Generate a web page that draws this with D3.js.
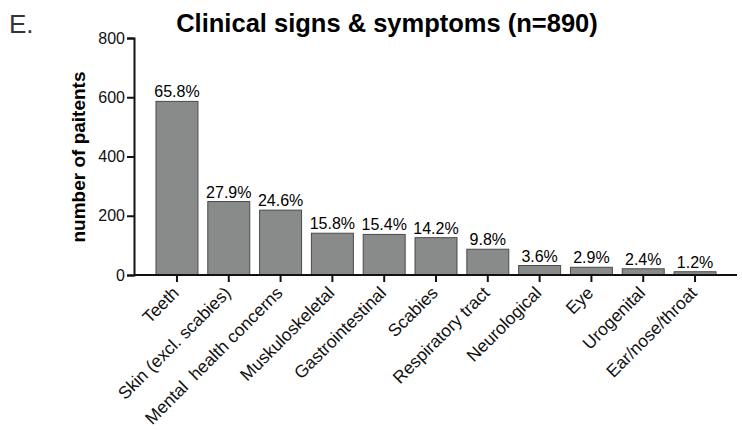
<!DOCTYPE html>
<html><head><meta charset="utf-8">
<script src="https://cdn.jsdelivr.net/npm/d3@7"></script>
<style>body{margin:0;background:#fff;} text{font-family:"Liberation Sans",Arial,sans-serif;}</style>
</head><body>
<svg id="c" width="742" height="430"></svg>
<script>
const categories = ["Teeth","Skin (excl. scabies)","Mental  health concerns","Muskuloskeletal","Gastrointestinal","Scabies","Respiratory tract","Neurological","Eye","Urogenital","Ear/nose/throat"];
const counts = [586, 248, 219, 141, 137, 126, 87, 32, 26, 21, 11];
const percentLabels = ["65.8%","27.9%","24.6%","15.8%","15.4%","14.2%","9.8%","3.6%","2.9%","2.4%","1.2%"];
const yTicks = [0,200,400,600,800];

const svg = d3.select("#c");
const x = d3.scaleBand().domain(categories).range([135, 737]).paddingInner(0.19).paddingOuter(0.405);
const y = d3.scaleLinear().domain([0, 800]).range([275, 38]);

svg.append("text").attr("x", 9).attr("y", 33).attr("font-size", 26).attr("fill","#333").text("E.");
svg.append("text").attr("x", 387).attr("y", 32).attr("text-anchor","middle").attr("font-size", 25.5).attr("font-weight","bold").text("Clinical signs & symptoms (n=890)");

svg.selectAll("rect.bar").data(categories).join("rect").attr("class","bar")
  .attr("x", d => x(d)).attr("width", x.bandwidth())
  .attr("y", (d,i) => y(counts[i])).attr("height", (d,i) => y(0) - y(counts[i]))
  .attr("fill", "#898b8b").attr("stroke", "#4a4a4a").attr("stroke-width", 1);

svg.selectAll("text.pct").data(categories).join("text").attr("class","pct")
  .attr("x", d => x(d) + x.bandwidth()/2).attr("y", (d,i) => y(counts[i]) - 4)
  .attr("text-anchor","middle").attr("font-size", 16).text((d,i) => percentLabels[i]);

const yAxis = svg.append("g").attr("transform","translate(134,0)")
  .call(d3.axisLeft(y).tickValues(yTicks).tickSize(7).tickPadding(2));
yAxis.selectAll("text").attr("font-size", 16).attr("font-family","Liberation Sans, Arial, sans-serif").attr("fill","#111");
yAxis.select(".domain").attr("stroke","#111").attr("stroke-width",2);
yAxis.selectAll(".tick line").attr("stroke","#111").attr("stroke-width",2);

const xAxis = svg.append("g").attr("transform","translate(0,275)")
  .call(d3.axisBottom(x).tickSize(7).tickSizeOuter(0));
xAxis.select(".domain").attr("stroke","#111").attr("stroke-width",2).attr("d","M134,0H737");
xAxis.selectAll(".tick line").attr("stroke","#111").attr("stroke-width",2);
xAxis.selectAll("text").attr("font-size", 17.5).attr("font-family","Liberation Sans, Arial, sans-serif").attr("fill","#111")
  .attr("text-anchor","end").attr("dy", 0).attr("y", 0)
  .attr("transform","translate(3,19) rotate(-45)").style("white-space","pre");

svg.append("text").attr("transform","translate(85,157) rotate(-90)").attr("text-anchor","middle")
  .attr("font-size", 19).attr("font-weight","bold").text("number of paitents");
</script>
</body></html>
